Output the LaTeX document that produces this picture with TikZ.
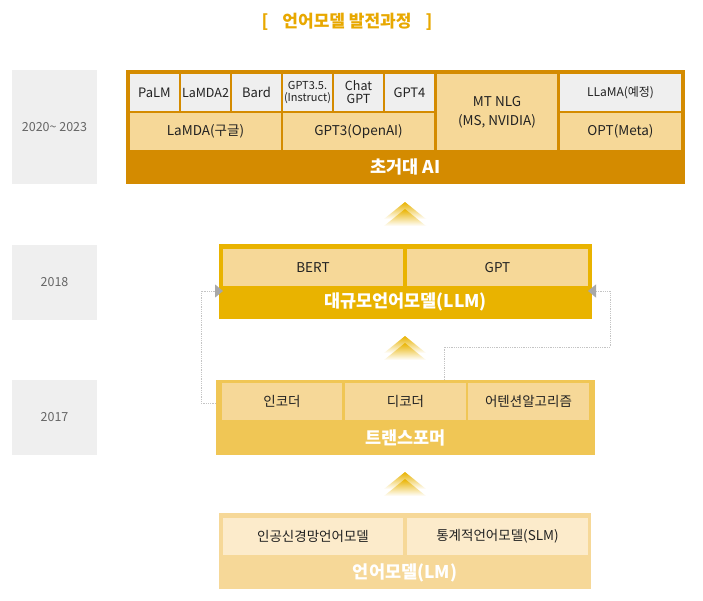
\documentclass[tikz,border=0pt]{standalone}
\usepackage{fontspec}
\setmainfont{Noto Sans CJK KR}
\usepackage{tikz}
\usetikzlibrary{arrows.meta}

\definecolor{aidark}{HTML}{D48B00}
\definecolor{llmgold}{HTML}{E9B300}
\definecolor{tfgold}{HTML}{F0C655}
\definecolor{lmpeach}{HTML}{F6D898}
\definecolor{cellpeach}{HTML}{F6D898}
\definecolor{cellcream}{HTML}{FCEBCB}
\definecolor{cellgray}{HTML}{EFEFEF}
\definecolor{yeartext}{HTML}{666666}
\definecolor{celltext}{HTML}{222222}
\definecolor{titlegold}{HTML}{E8A800}
\definecolor{chevgold}{HTML}{E9B300}
\definecolor{dotgray}{HTML}{C4C4C4}
\definecolor{tipgray}{HTML}{A8A8A8}

\begin{document}
\begin{tikzpicture}[x=1pt,y=-1pt,>=latex,
        box/.style 2 args={inner sep=0pt,outer sep=0pt,minimum width=#1pt,minimum height=#2pt},
        cell/.style={align=center,text=celltext,font=\fontsize{13}{15}\selectfont},
        band/.style={text=white,font=\fontsize{17.5}{19}\selectfont\bfseries},
        yearbox/.style={fill=cellgray,text=yeartext,font=\fontsize{12.5}{14}\selectfont},
        link/.style={draw=dotgray,densely dotted,line width=0.8pt,-{Triangle[width=13pt,length=8pt,color=tipgray]}}]
        \useasboundingbox[fill=white](0,0)rectangle(703,600);
        \node[text=titlegold,font=\fontsize{17}{19}\selectfont\bfseries](title)at(347,22){[\hspace{14pt}언어모델 발전과정\hspace{14pt}]};
        \node[yearbox,box={85}{114}](y2020)at(54.5,127){2020\textasciitilde{} 2023};
        \node[yearbox,box={85}{75}](y2018)at(54.5,282.5){2018};
        \node[yearbox,box={85}{75}](y2017)at(54.5,417.5){2017};
        \node[box={559}{114},fill=aidark](aiblk)at(405.5,127){};
        \node[cell,box={49}{37},fill=cellgray](palm)at(154.5,92.5){PaLM};
        \node[cell,box={49}{37},fill=cellgray,font=\fontsize{12.5}{14}\selectfont](lamdatwo)at(205.5,92.5){LaMDA2};
        \node[cell,box={49}{37},fill=cellgray](bard)at(256.5,92.5){Bard};
        \node[cell,box={49}{37},fill=cellgray,font=\fontsize{11}{11.5}\selectfont](gptinst)at(307.5,92.5){GPT3.5.\\(Instruct)};
        \node[cell,box={49}{37},fill=cellgray,font=\fontsize{12.5}{13}\selectfont](chatgpt)at(358.5,92.5){Chat\\GPT};
        \node[cell,box={49}{37},fill=cellgray](gptfour)at(409.5,92.5){GPT4};
        \node[cell,box={151}{37},fill=cellpeach,font=\fontsize{13.5}{15}\selectfont](lamda)at(205.5,131.5){LaMDA(구글)};
        \node[cell,box={151}{37},fill=cellpeach,font=\fontsize{13.5}{15}\selectfont](gptthree)at(358.5,131.5){GPT3(OpenAI)};
        \node[cell,box={120}{76},fill=cellpeach,font=\fontsize{13.5}{19}\selectfont](mtnlg)at(497,112){MT NLG\\(MS, NVIDIA)};
        \node[cell,box={121}{37},fill=cellgray,font=\fontsize{12}{13}\selectfont](llama)at(620.5,92.5){LLaMA(예정)};
        \node[cell,box={121}{37},fill=cellpeach,font=\fontsize{13.5}{15}\selectfont](opt)at(620.5,131.5){OPT(Meta)};
        \node[band](ailbl)at(405.5,167){초거대 AI};
        \shade[top color=chevgold,bottom color=white](384,219)--(405,202)--(426,219)--cycle;
        \shade[top color=chevgold,bottom color=white](384,226)--(405,209)--(426,226)--cycle;
        \node[box={373}{75},fill=llmgold](llmblk)at(405.5,281.5){};
        \node[cell,box={180}{37},fill=cellpeach,font=\fontsize{13.5}{15}\selectfont](bert)at(313,267.5){BERT};
        \node[cell,box={181}{37},fill=cellpeach,font=\fontsize{13.5}{15}\selectfont](gpt)at(497.5,267.5){GPT};
        \node[band](llmlbl)at(405.5,302){대규모언어모델(LLM)};
        \shade[top color=chevgold,bottom color=white](384,353)--(405,336)--(426,353)--cycle;
        \shade[top color=chevgold,bottom color=white](384,360)--(405,343)--(426,360)--cycle;
        \node[box={379}{75},fill=tfgold](tfblk)at(405.5,417.5){};
        \node[cell,box={120}{37},fill=cellpeach,font=\fontsize{13.5}{15}\selectfont](enc)at(282,401.5){인코더};
        \node[cell,box={121}{37},fill=cellpeach,font=\fontsize{13.5}{15}\selectfont](dec)at(405.5,401.5){디코더};
        \node[cell,box={121}{37},fill=cellpeach,font=\fontsize{13.5}{15}\selectfont](attn)at(528.5,401.5){어텐션알고리즘};
        \node[band](tflbl)at(405.5,438){트랜스포머};
        \shade[top color=chevgold,bottom color=white](384,489)--(405,472)--(426,489)--cycle;
        \shade[top color=chevgold,bottom color=white](384,496)--(405,479)--(426,496)--cycle;
        \node[box={372}{76},fill=lmpeach](lmblk)at(405,551){};
        \node[cell,box={180}{37},fill=cellcream,font=\fontsize{13.5}{15}\selectfont](nnlm)at(313,536.5){인공신경망언어모델};
        \node[cell,box={181}{37},fill=cellcream,font=\fontsize{13.5}{15}\selectfont](slm)at(497.5,536.5){통계적언어모델(SLM)};
        \node[band](lmlbl)at(405,573){언어모델(LM)};
        \draw[link](tfblk.west|-0,403)-|(201,291)--([yshift=-9.5pt,xshift=4pt]llmblk.west);
        \draw[link](tfblk.north-|444,0)|-(610,347)|-([yshift=-9.5pt,xshift=-4pt]llmblk.east);
    \end{tikzpicture}
\end{document}
